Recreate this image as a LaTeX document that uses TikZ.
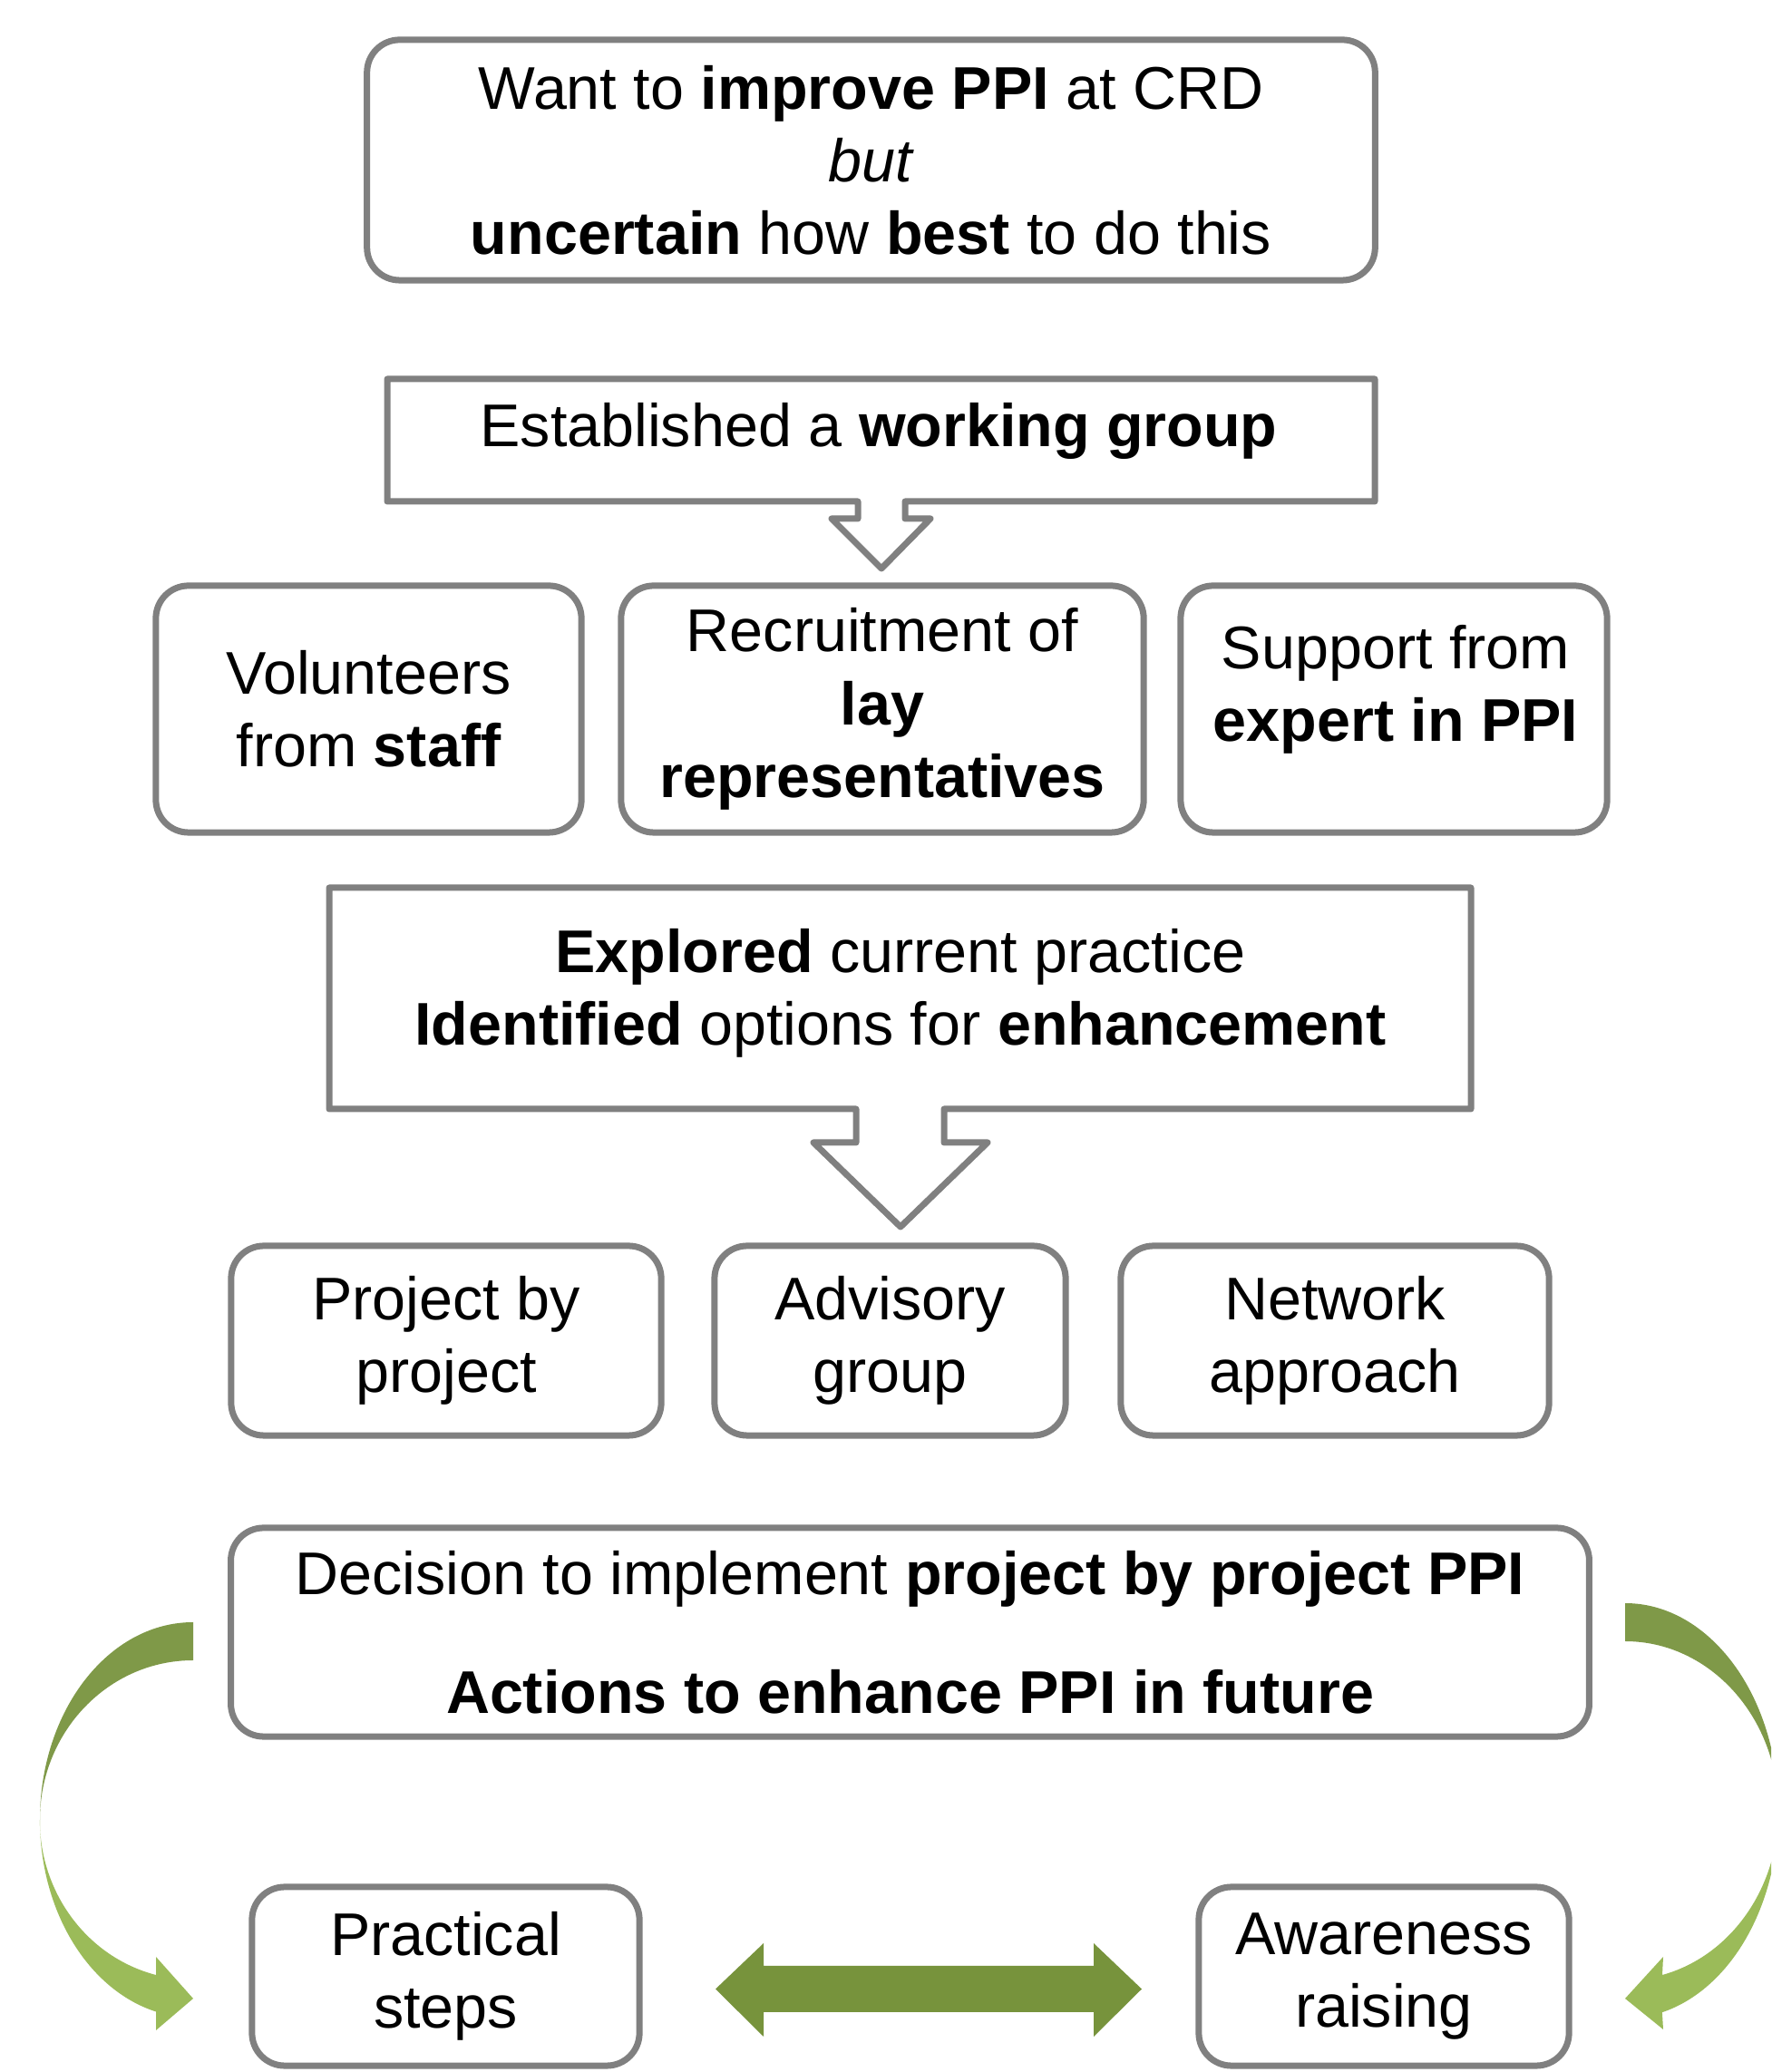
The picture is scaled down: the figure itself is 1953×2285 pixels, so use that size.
\documentclass[tikz,border=0pt]{standalone}
\usepackage{fontspec}
\setmainfont{Liberation Sans}
\usepackage{tikz}
\usetikzlibrary{positioning}
\definecolor{frame}{RGB}{128, 128, 128}
\definecolor{leaf}{RGB}{119, 147, 60}
\definecolor{leafdark}{RGB}{127, 153, 72}
\definecolor{leaflight}{RGB}{155, 187, 89}

\begin{document}
\begin{tikzpicture}[x=0.01cm, y=0.01cm, line join=round,
  every node/.style={font=\fontsize{18.9}{22.8}\selectfont},
  card/.style={draw=frame, line width=0.07cm, rounded corners=0.36cm, inner sep=0pt, align=center},
  plain/.style={inner sep=0pt, align=center},
  outline/.style={draw=frame, line width=0.07cm}]
\useasboundingbox (0, 0) rectangle (1953, 2285);

\node[card, minimum width=11.11cm, minimum height=2.65cm] (want) at (960.5, 2108.5)
  {Want to \textbf{improve PPI} at CRD\\\textit{but}\\\textbf{uncertain} how \textbf{best} to do this};

% working group box with its arrow
\draw[outline] (427, 1867) -- (1516, 1867) -- (1516, 1732) -- (998, 1732) -- (998, 1713)
  -- (1026, 1713) -- (972, 1658) -- (917, 1713) -- (946, 1713) -- (946, 1732) -- (427, 1732) -- cycle;
\node[plain] (group) at (969, 1810) {Established a \textbf{working group}};

\node[card, minimum width=4.69cm, minimum height=2.72cm] (staff) at (406.5, 1503)
  {Volunteers\\from \textbf{staff}};
\node[card, minimum width=5.76cm, minimum height=2.72cm] (lay) at (973, 1503)
  {Recruitment of\\\textbf{lay}\\\textbf{representatives}};
\node[card, minimum width=4.70cm, minimum height=2.72cm] (expert) at (1537, 1503) {};
\node[plain] (experttext) at (1539, 1525) {Support from\\\textbf{expert in PPI}};

% explored box with its arrow
\draw[outline] (363, 1306) -- (1622, 1306) -- (1622, 1062) -- (1041, 1062) -- (1041, 1025)
  -- (1089, 1025) -- (993, 932) -- (897, 1025) -- (944, 1025) -- (944, 1062) -- (363, 1062) -- cycle;
\node[plain] (explored) at (993, 1190)
  {\textbf{Explored} current practice\\\textbf{Identified} options for \textbf{enhancement}};

\node[card, minimum width=4.74cm, minimum height=2.09cm] (project) at (492, 806.5) {Project by\\project};
\node[card, minimum width=3.87cm, minimum height=2.09cm] (advisory) at (981.5, 806.5) {Advisory\\group};
\node[card, minimum width=4.72cm, minimum height=2.09cm] (network) at (1472, 806.5) {Network\\approach};

\node[card, minimum width=14.97cm, minimum height=2.30cm] (decision) at (1003.5, 485)
  {Decision to implement \textbf{project by project PPI}\\[0.51cm]\textbf{Actions to enhance PPI in future}};

\node[card, minimum width=4.27cm, minimum height=1.97cm] (practical) at (491.5, 105.5) {Practical\\steps};
\node[card, minimum width=4.08cm, minimum height=1.97cm] (awareness) at (1526, 105.5) {Awareness\\raising};

% curved arrows
\fill[leafdark] (213, 496) arc[start angle=90, end angle=180, x radius=169, y radius=218]
  arc[start angle=180, end angle=90, x radius=169, y radius=176] -- cycle;
\fill[leaflight] (44, 278) arc[start angle=180, end angle=256, x radius=169, y radius=218]
  -- (172, 46) -- (213, 81) -- (172, 127) -- (172, 107)
  arc[start angle=256, end angle=180, x radius=169, y radius=176] -- cycle;

\begin{scope}
  \clip (0, 0) rectangle (1953, 2285);
  \fill[leafdark] (1792, 517) arc[start angle=90, end angle=0, x radius=169, y radius=229]
    arc[start angle=0, end angle=90, x radius=169, y radius=187] -- cycle;
  \fill[leaflight] (1961, 288) arc[start angle=0, end angle=-76, x radius=169, y radius=229]
    -- (1834, 47) -- (1792, 81) -- (1834, 127) -- (1833, 107)
    arc[start angle=-76, end angle=0, x radius=169, y radius=187] -- cycle;
\end{scope}

\fill[leaf] (789, 91.5) -- (842, 142) -- (842, 117) -- (1206, 117) -- (1206, 142) -- (1259, 91.5)
  -- (1206, 39) -- (1206, 66) -- (842, 66) -- (842, 39) -- cycle;
\end{tikzpicture}
\end{document}
